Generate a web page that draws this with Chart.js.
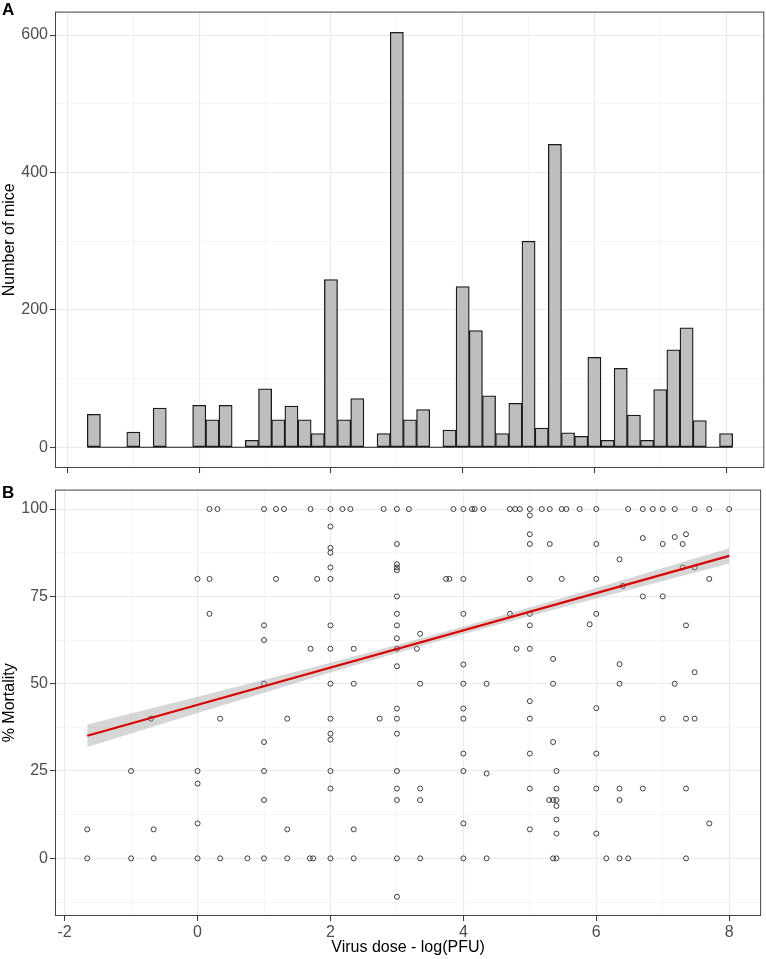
<!DOCTYPE html>
<html>
<head>
<meta charset="utf-8">
<script src="https://cdn.jsdelivr.net/npm/chart.js@4.4.0/dist/chart.umd.min.js"></script>
<style>
  body { margin: 0; background: #fff; }
  #wrap { position: relative; width: 766px; height: 959px; }
  canvas { position: absolute; left: 0; }
  .tag { position: absolute; font: bold 17px "Liberation Sans", Arial, sans-serif; color: #000; }
</style>
</head>
<body>
<div id="wrap">
  <canvas id="histChart" width="766" height="480" style="top:0"></canvas>
  <canvas id="scatterChart" width="766" height="481" style="top:478px"></canvas>
  <div class="tag" style="left:2px;top:0px">A</div>
  <div class="tag" style="left:2px;top:483px">B</div>
</div>
<script>
// --- panel A: histogram of doses (bin centres, width 0.2 log units)
const binMid = [-1.6, -1.4, -1.2, -1.0, -0.8, -0.6, -0.4, -0.2, 0.0, 0.2,
                0.4, 0.6, 0.8, 1.0, 1.2, 1.4, 1.6, 1.8, 2.0, 2.2,
                2.4, 2.6, 2.8, 3.0, 3.2, 3.4, 3.6, 3.8, 4.0, 4.2,
                4.4, 4.6, 4.8, 5.0, 5.2, 5.4, 5.6, 5.8, 6.0, 6.2,
                6.4, 6.6, 6.8, 7.0, 7.2, 7.4, 7.6, 7.8, 8.0];
const mice = [48, 0, 0, 22, 0, 57, 0, 0, 61, 40,
              61, 0, 10, 85, 40, 60, 40, 20, 244, 40,
              71, 0, 20, 604, 40, 55, 0, 25, 234, 170,
              75, 20, 64, 300, 28, 441, 21, 16, 131, 10,
              115, 47, 10, 84, 142, 174, 39, 0, 20];
const binWidth = 0.2;

// --- panel B: % mortality per experiment vs dose
const doseX = [
  -1.66, -1.66, -1, -1, -0.7, -0.66, -0.66,
  0, 0, 0, 0, 0, 0.18, 0.18, 0.18, 0.30, 0.34, 0.34, 0.75,
  1, 1, 1, 1, 1, 1, 1, 1, 1.18, 1.18, 1.30, 1.35, 1.35, 1.35,
  1.69, 1.70, 1.70, 1.74, 1.80,
  2, 2, 2, 2, 2, 2, 2, 2, 2, 2, 2, 2, 2, 2, 2,
  2.18, 2.30, 2.35, 2.35, 2.35, 2.35, 2.74, 2.80,
  3, 3, 3, 3, 3, 3, 3, 3, 3, 3, 3, 3, 3, 3, 3, 3, 3, 3, 3,
  3.18, 3.30, 3.35, 3.35, 3.35, 3.35, 3.35, 3.74, 3.79, 3.85,
  4, 4, 4, 4, 4, 4, 4, 4, 4, 4, 4,
  4.13, 4.17, 4.30, 4.35, 4.35, 4.35, 4.70, 4.70, 4.78, 4.80, 4.85,
  5, 5, 5, 5, 5, 5, 5, 5, 5, 5, 5, 5, 5,
  5.18, 5.29, 5.30, 5.30, 5.35, 5.35, 5.35, 5.35, 5.35,
  5.40, 5.40, 5.40, 5.40, 5.40, 5.40, 5.40, 5.48, 5.48, 5.55, 5.75, 5.90,
  6, 6, 6, 6, 6, 6, 6, 6, 6.15,
  6.35, 6.35, 6.35, 6.35, 6.35, 6.35, 6.40, 6.48, 6.48,
  6.70, 6.70, 6.70, 6.70, 6.85, 7, 7, 7, 7, 7.18, 7.18, 7.18, 7.30, 7.30,
  7.35, 7.35, 7.35, 7.35, 7.35, 7.48, 7.48, 7.48, 7.48, 7.70, 7.70, 7.70, 8
];
const mortalityY = [
  8.3, 0, 25, 0, 40, 8.3, 0,
  80, 25, 21.4, 10, 0, 100, 80, 70, 100, 40, 0, 0,
  100, 66.7, 62.5, 50, 33.3, 25, 16.7, 0, 100, 80, 100, 40, 8.3, 0,
  0, 100, 60, 0, 80,
  100, 95, 88.9, 87.5, 83.3, 80, 66.7, 60, 50, 40, 35.7, 34, 25, 20, 0,
  100, 100, 60, 50, 8.3, 0, 40, 100,
  100, 90, 84.2, 83.3, 82.5, 75, 70, 66.7, 63, 60, 55, 42.9, 40, 35.7, 25, 20, 16.7, 0, -11,
  100, 60, 64.3, 50, 20, 16.7, 0, 80, 80, 100,
  100, 80, 70, 55.5, 50, 42.9, 40, 30, 25, 10, 0,
  100, 100, 100, 50, 24.3, 0, 100, 70, 100, 60, 100,
  100, 98.2, 92.8, 90, 80, 70, 66.7, 60, 45, 40, 30, 20, 8.3,
  100, 16.7, 100, 90, 57.1, 50, 33.3, 16.7, 0,
  25, 20, 16.7, 15, 11.1, 7.1, 0, 100, 80, 100, 100, 67,
  100, 90, 80, 70, 43, 30, 20, 7.1, 0,
  85.6, 55.6, 50, 20, 16.7, 0, 78, 100, 0,
  100, 91.7, 75, 20, 100, 100, 90, 75, 40, 100, 92, 50, 90, 83.3,
  92.8, 66.7, 40, 20, 0, 100, 83.3, 53.3, 40, 100, 80, 10, 100
];

// linear fit and its confidence band
const fitX = [-1.66, 8];
const fitY = [35.1, 86.6];
const bandX = [-1.66, 0, 2, 3, 4, 5, 6, 8];
const bandLow = [31.9, 41.65, 53.2, 58.8, 64.25, 69.4, 74.4, 84.4];
const bandHigh = [38.3, 46.25, 56.0, 61.1, 66.35, 71.8, 77.4, 88.8];

// axis ticks (all gridlines, and the labelled ones)
const xGrid = [-2, -1, 0, 1, 2, 3, 4, 5, 6, 7, 8];
const xMajor = [-2, 0, 2, 4, 6, 8];
const miceGrid = [0, 100, 200, 300, 400, 500, 600];
const miceMajor = [0, 200, 400, 600];
const mortGrid = [-12.5, 0, 12.5, 25, 37.5, 50, 62.5, 75, 87.5, 100];
const mortMajor = [0, 25, 50, 75, 100];

const FONT = '"Liberation Sans", Arial, sans-serif';
Chart.defaults.font.family = FONT;

function gridScale(grid, major, extra) {
  const isMajor = c => c.tick && major.includes(c.tick.value);
  const base = {
    type: 'linear',
    offset: false,
    afterBuildTicks: s => { s.ticks = grid.map(v => ({ value: v })); },
    grid: {
      offset: false,
      color: c => isMajor(c) ? '#EBEBEB' : '#F2F2F2',
      lineWidth: c => isMajor(c) ? 1.1 : 0.7,
      tickColor: c => isMajor(c) ? '#333333' : 'rgba(0,0,0,0)',
      tickLength: 5,
      tickWidth: 1
    },
    border: { display: false },
    ticks: {
      autoSkip: false,
      maxRotation: 0,
      padding: 2,
      color: '#4D4D4D',
      font: { size: 16 },
      callback: v => major.includes(v) ? String(v) : ''
    }
  };
  return Object.assign(base, extra);
}

// box around the plotting panel
const panelBorder = {
  id: 'panelBorder',
  afterDatasetsDraw(chart) {
    const { ctx, chartArea: a } = chart;
    ctx.save();
    ctx.strokeStyle = '#444444';
    ctx.lineWidth = 1;
    ctx.strokeRect(a.left + 0.5, a.top + 0.5, a.right - a.left - 1, a.bottom - a.top - 1);
    ctx.restore();
  }
};

const common = {
  responsive: false,
  animation: false,
  devicePixelRatio: 1,
  plugins: { legend: { display: false }, tooltip: { enabled: false } }
};

// Panel A
new Chart(document.getElementById('histChart'), {
  type: 'bar',
  data: {
    datasets: [
      {
        type: 'bar',
        data: binMid.map((x, i) => ({ x: x, y: mice[i] })),
        backgroundColor: '#BEBEBE',
        borderColor: '#1A1A1A',
        borderWidth: 1.3,
        borderSkipped: false,
        barPercentage: 1,
        categoryPercentage: 1
      },
      {
        type: 'line',
        data: [
          { x: binMid[0] - binWidth / 2, y: 0 },
          { x: binMid[binMid.length - 1] + binWidth / 2, y: 0 }
        ],
        borderColor: '#1A1A1A',
        borderWidth: 1.2,
        pointRadius: 0
      }
    ]
  },
  options: Object.assign({}, common, {
    layout: { padding: { top: 1, right: 1.7, left: 0, bottom: 0 } },
    scales: {
      x: gridScale(xGrid, xMajor, {
        min: -2.19, max: 8.58,
        ticks: { display: false },
        afterFit: s => { s.height = 12; }
      }),
      y: gridScale(miceGrid, miceMajor, {
        min: -30.2, max: 634.2,
        title: { display: true, text: 'Number of mice', color: '#000', font: { size: 16 }, padding: { top: 0, bottom: 0 } },
        afterFit: s => { s.width = 55; }
      })
    }
  }),
  plugins: [panelBorder]
});

// Panel B
new Chart(document.getElementById('scatterChart'), {
  type: 'scatter',
  data: {
    datasets: [
      {
        type: 'line',
        data: fitX.map((x, i) => ({ x: x, y: fitY[i] })),
        borderColor: '#DD0000',
        borderWidth: 2.2,
        pointRadius: 0,
        fill: false
      },
      {
        type: 'line',
        data: bandX.map((x, i) => ({ x: x, y: bandHigh[i] })),
        borderColor: 'rgba(0,0,0,0)',
        borderWidth: 0,
        pointRadius: 0,
        backgroundColor: 'rgba(153,153,153,0.4)',
        fill: '+1'
      },
      {
        type: 'line',
        data: bandX.map((x, i) => ({ x: x, y: bandLow[i] })),
        borderColor: 'rgba(0,0,0,0)',
        borderWidth: 0,
        pointRadius: 0,
        fill: false
      },
      {
        data: doseX.map((x, i) => ({ x: x, y: mortalityY[i] })),
        pointRadius: 2.5,
        pointBorderWidth: 0.9,
        pointBorderColor: '#2B2B2B',
        pointBackgroundColor: 'rgba(0,0,0,0)'
      }
    ]
  },
  options: Object.assign({}, common, {
    layout: { padding: { top: 8.7, right: 1.7, left: 0, bottom: 0 } },
    scales: {
      x: gridScale(xGrid, xMajor, {
        min: -2.145, max: 8.48,
        title: { display: true, text: 'Virus dose - log(PFU)', color: '#000', font: { size: 16 }, padding: { top: 0, bottom: 2 } },
        afterFit: s => { s.height = 43; }
      }),
      y: gridScale(mortGrid, mortMajor, {
        min: -16.5, max: 105.57,
        title: { display: true, text: '% Mortality', color: '#000', font: { size: 16 }, padding: { top: 0, bottom: 0 } },
        afterFit: s => { s.width = 55; }
      })
    }
  }),
  plugins: [panelBorder]
});
</script>
</body>
</html>
